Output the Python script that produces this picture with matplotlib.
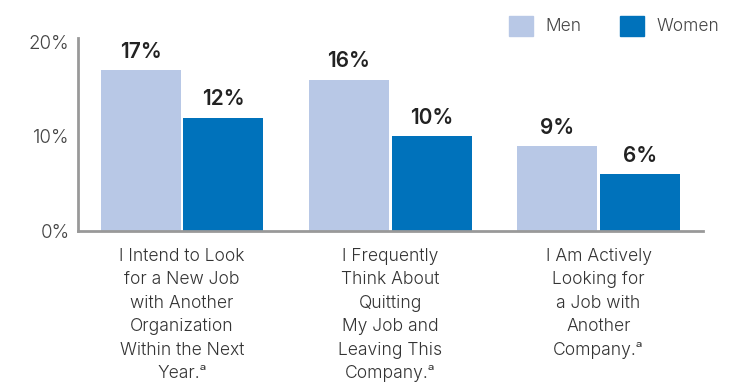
import matplotlib
matplotlib.use("Agg")
import matplotlib.pyplot as plt
import numpy as np
from matplotlib.patches import Patch

categories = [
    "I Intend to Look\nfor a New Job\nwith Another\nOrganization\nWithin the Next\nYear.\u1d43",
    "I Frequently\nThink About\nQuitting\nMy Job and\nLeaving This\nCompany.\u1d43",
    "I Am Actively\nLooking for\na Job with\nAnother\nCompany.\u1d43",
]
men = [17, 16, 9]
women = [12, 10, 6]
series_names = ["Men", "Women"]
yticks = [0, 10, 20]
ytick_labels = ["0%", "10%", "20%"]

men_color = "#B8C8E6"
women_color = "#0072BB"

plt.rcParams['font.family'] = ['Inter', 'DejaVu Sans']

fig = plt.figure(figsize=(7.42, 3.85), dpi=100)
ax = fig.add_axes([0.105, 0.40, 0.842, 0.501])

x = np.arange(len(categories))
w = 0.385
gap = 0.006
b1 = ax.bar(x - w/2 - gap, men, width=w, color=men_color, label=series_names[0])
b2 = ax.bar(x + w/2 + gap, women, width=w, color=women_color, label=series_names[1])

for bars, vals in ((b1, men), (b2, women)):
    for r, v in zip(bars, vals):
        ax.annotate(f"{v}%", (r.get_x() + r.get_width()/2, v), xytext=(0, 6),
                    textcoords="offset points", ha="center", va="bottom",
                    fontsize=15, fontweight="semibold", color="#222222")

ax.set_xlim(-0.5, 2.5)
ax.set_ylim(0, 20.4)
ax.set_yticks(yticks)
ax.set_yticklabels(ytick_labels, fontsize=13.5, color="#444444", fontweight=300)
ax.set_xticks(x)
ax.set_xticklabels(categories, fontsize=12.6, color="#333333", fontweight=300,
                   linespacing=1.5, va="top")
ax.tick_params(axis="both", length=0, pad=6)
ax.tick_params(axis="x", pad=12)
for s in ("top", "right"):
    ax.spines[s].set_visible(False)
for s in ("left", "bottom"):
    ax.spines[s].set_color("#999999")
    ax.spines[s].set_linewidth(2)

handles = [Patch(color=men_color), Patch(color=women_color)]
leg = fig.legend(handles, series_names, loc="upper right", bbox_to_anchor=(0.99, 1.0),
                 ncol=2, frameon=False, fontsize=12.5, handlelength=1.4, handleheight=1.4,
                 columnspacing=2.2, handletextpad=0.7)
for t in leg.get_texts():
    t.set_color("#444444")
    t.set_fontweight(300)

fig.savefig("out.png", dpi=100)
